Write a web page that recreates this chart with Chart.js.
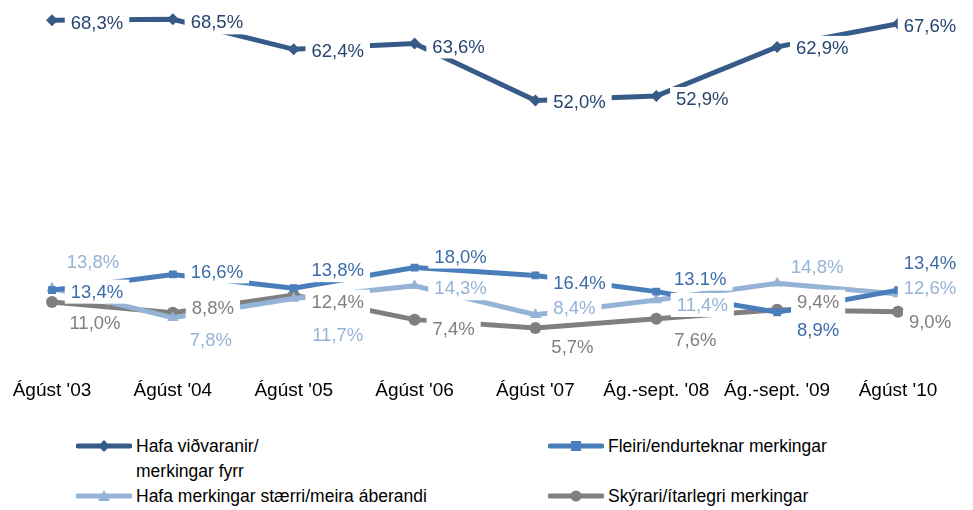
<!DOCTYPE html>
<html>
<head>
<meta charset="utf-8">
<script src="https://cdn.jsdelivr.net/npm/chart.js@4.4.0/dist/chart.umd.min.js"></script>
<style>
  html, body { margin:0; padding:0; background:#fff; }
  #wrap { position:relative; width:973px; height:510px; overflow:hidden; font-family:"Liberation Sans", Arial, sans-serif; }
  #c { position:absolute; left:0; top:0; }
  #legend { position:absolute; left:76px; top:434px; display:grid; grid-template-columns:472px 360px; grid-template-rows:50px 26px; }
  .item { display:flex; align-items:flex-start; font-size:17.5px; line-height:25px; color:#000; }
  .item svg { flex:none; margin-top:6px; margin-right:4px; }
</style>
</head>
<body>
<div id="wrap">
  <canvas id="c" width="973" height="420"></canvas>
  <div id="legend"></div>
</div>
<script>
// ---- data ----
const categories = ["Ágúst '03", "Ágúst '04", "Ágúst '05", "Ágúst '06", "Ágúst '07", "Ág.-sept. '08", "Ág.-sept. '09", "Ágúst '10"];
const seriesNames = [
  ["Hafa viðvaranir/", "merkingar fyrr"],
  ["Fleiri/endurteknar merkingar"],
  ["Hafa merkingar stærri/meira áberandi"],
  ["Skýrari/ítarlegri merkingar"]
];
const hafaVidvaranir = [68.3, 68.5, 62.4, 63.6, 52.0, 52.9, 62.9, 67.6];
const fleiriMerkingar = [13.4, 16.6, 13.8, 18.0, 16.4, 13.1, 8.9, 13.4];
const staerriMerkingar = [13.8, 7.8, 11.7, 14.3, 8.4, 11.4, 14.8, 12.6];
const skyrariMerkingar = [11.0, 8.8, 12.4, 7.4, 5.7, 7.6, 9.4, 9.0];
// labels printed with a dot instead of comma in the original: [series, index]
const dotDecimalLabels = [[1, 4], [1, 5]];

// ---- styling ----
const lineColors = ['#375B88', '#4A7EBB', '#95B3D7', '#7F7F7F'];
const labelColors = ['#26456F', '#3D6CA8', '#95B3D7', '#7F7F7F'];
const pointStyles = ['rectRot', 'rect', 'triangle', 'circle'];
const pointRadii = [6, 5.5, 6.5, 6];
// label centre offsets from each point [dx, dy]
const labelOffsets = [
  [[45,2.5],[44,3],[44,2],[44,3],[44,1],[46,3],[45,1],[32,2.5]],
  [[45,1.5],[44,-3],[44,-18],[46,-11],[44,7.5],[44,-13],[41,18],[32,-27.5]],
  [[41,-26.5],[38,22],[44,36],[46,2.5],[39,-7],[46,5],[40,-16],[32,-6]],
  [[43,21],[40,-5],[44,6.6],[39,9],[37,19],[39,21],[41,-8],[32,10]]
];

const seriesData = [hafaVidvaranir, fleiriMerkingar, staerriMerkingar, skyrariMerkingar];

function fmt(si, i, v) {
  const dot = dotDecimalLabels.some(p => p[0] === si && p[1] === i);
  const s = v.toFixed(1);
  return (dot ? s : s.replace('.', ',')) + '%';
}

const labelPlugin = {
  id: 'pointLabels',
  afterDatasetsDraw(chart) {
    const ctx = chart.ctx;
    ctx.save();
    ctx.font = '18.5px "Liberation Sans", Arial, sans-serif';
    ctx.textAlign = 'center';
    ctx.textBaseline = 'middle';
    const items = [];
    chart.data.datasets.forEach((ds, si) => {
      const meta = chart.getDatasetMeta(si);
      meta.data.forEach((pt, i) => {
        const off = labelOffsets[si][i];
        const txt = fmt(si, i, ds.data[i]);
        items.push({ x: pt.x + off[0], y: pt.y + off[1], txt, color: labelColors[si] });
      });
    });
    ctx.fillStyle = '#fff';
    items.forEach(it => {
      const w = ctx.measureText(it.txt).width + 12;
      ctx.fillRect(it.x - w / 2, it.y - 12, w, 24);
    });
    items.forEach(it => {
      ctx.fillStyle = it.color;
      ctx.fillText(it.txt, it.x, it.y + 1);
    });
    ctx.restore();
  }
};

new Chart(document.getElementById('c'), {
  type: 'line',
  data: {
    labels: categories,
    datasets: seriesData.map((d, si) => ({
      label: seriesNames[si],
      data: d,
      borderColor: lineColors[si],
      backgroundColor: lineColors[si],
      borderWidth: 5,
      pointStyle: pointStyles[si],
      pointRadius: pointRadii[si],
      pointBorderWidth: 0,
      pointBackgroundColor: lineColors[si],
      tension: 0,
      fill: false
    }))
  },
  options: {
    responsive: false,
    animation: false,
    layout: { padding: { left: 52, right: 75, top: 12, bottom: 18 } },
    plugins: { legend: { display: false }, tooltip: { enabled: false } },
    scales: {
      x: {
        offset: false,
        grid: { display: false, drawTicks: false },
        border: { display: false },
        ticks: { color: '#000', font: { size: 19, family: '"Liberation Sans", Arial, sans-serif' }, padding: 23, maxRotation: 0, minRotation: 0, autoSkip: false },
        afterFit(scale) { scale.height = 46; scale.paddingLeft = 0; scale.paddingRight = 0; }
      },
      y: { display: false, min: 0, max: 70 }
    }
  },
  plugins: [labelPlugin]
});

// ---- legend (HTML) ----
const legend = document.getElementById('legend');
const svgMarker = (si) => {
  const c = lineColors[si];
  let m = '';
  if (pointStyles[si] === 'rectRot') m = `<polygon points="28,0 34,6 28,12 22,6" fill="${c}"/>`;
  if (pointStyles[si] === 'rect') m = `<rect x="23" y="1" width="10" height="10" fill="${c}"/>`;
  if (pointStyles[si] === 'triangle') m = `<polygon points="28,0 34,11 22,11" fill="${c}"/>`;
  if (pointStyles[si] === 'circle') m = `<circle cx="28" cy="6" r="5.5" fill="${c}"/>`;
  return `<svg width="56" height="12"><line x1="2" y1="6" x2="54" y2="6" stroke="${c}" stroke-width="5" stroke-linecap="round"/>${m}</svg>`;
};
seriesNames.forEach((n, si) => {
  const d = document.createElement('div');
  d.className = 'item';
  d.innerHTML = svgMarker(si) + '<span>' + n.join('<br>') + '</span>';
  legend.appendChild(d);
});
</script>
</body>
</html>
